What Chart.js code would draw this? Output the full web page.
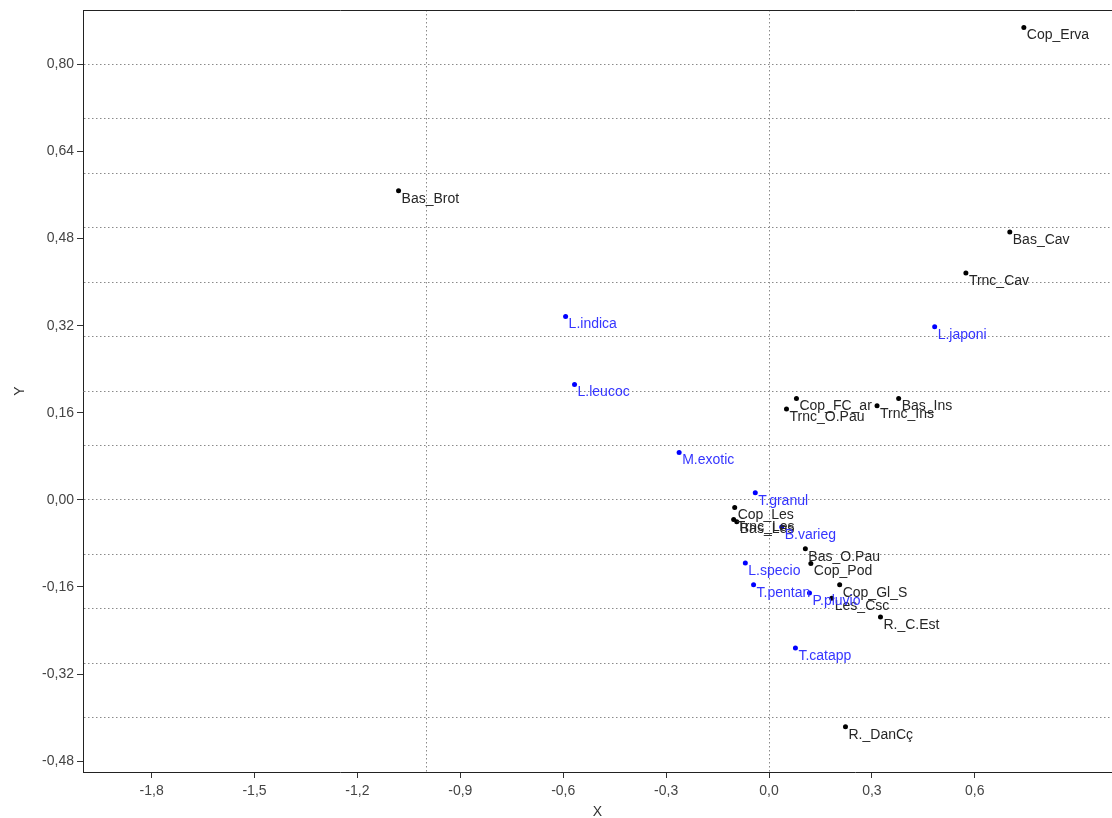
<!DOCTYPE html>
<html>
<head>
<meta charset="utf-8">
<script src="https://cdn.jsdelivr.net/npm/chart.js@4.4.1/dist/chart.umd.min.js"></script>
<style>
  body { margin: 0; background: #fff; }
</style>
</head>
<body>
<canvas id="chart" width="1112" height="818"></canvas>
<script>
// sites (black)
const siteNames = ['Cop_Erva', 'Bas_Brot', 'Bas_Cav', 'Trnc_Cav', 'Cop_FC_ar', 'Trnc_O.Pau', 'Trnc_Ins', 'Bas_Ins',
  'Cop_Les', 'Trnc_Les', 'Bas_Les', 'Bas_O.Pau', 'Cop_Pod', 'Cop_Gl_S', 'Les_Csc', 'R._C.Est', 'R._DanCç'];
const siteX = [0.743, -1.080, 0.702, 0.574, 0.080, 0.051, 0.315, 0.378,
  -0.100, -0.103, -0.094, 0.106, 0.122, 0.206, 0.183, 0.325, 0.223];
const siteY = [0.868, 0.568, 0.492, 0.417, 0.186, 0.167, 0.173, 0.186,
  -0.014, -0.036, -0.040, -0.090, -0.117, -0.156, -0.181, -0.215, -0.417];

// species (blue)
const speciesNames = ['L.indica', 'L.japoni', 'L.leucoc', 'M.exotic', 'T.granul', 'B.varieg',
  'L.specio', 'T.pentan', 'P.pluvio', 'T.catapp'];
const speciesX = [-0.593, 0.483, -0.567, -0.262, -0.040, 0.037, -0.069, -0.045, 0.118, 0.077];
const speciesY = [0.337, 0.318, 0.212, 0.087, 0.013, -0.050, -0.116, -0.156, -0.171, -0.272];

// axes
const xTickValues = [-1.8, -1.5, -1.2, -0.9, -0.6, -0.3, 0, 0.3, 0.6];
const xGridValues = [-1.0, 0.0];
const yTickValues = [-0.48, -0.32, -0.16, 0, 0.16, 0.32, 0.48, 0.64, 0.80];
const yGridValues = [-0.4, -0.3, -0.2, -0.1, 0, 0.1, 0.2, 0.3, 0.4, 0.5, 0.6, 0.7, 0.8];

const has = (list, v) => list.some(u => Math.abs(u - v) < 1e-6);
const merged = (a, b) => a.concat(b.filter(v => !has(a, v))).sort((p, q) => p - q);
const fmt = (v, d) => v.toFixed(d).replace('-0,', '0,').replace('.', ',');

const font = { family: '"Liberation Sans", Arial, sans-serif', size: 14 };

function axis(tickValues, gridValues, decimals, min, max, pad) {
  return {
    type: 'linear',
    min,
    max,
    afterBuildTicks: (scale) => {
      scale.ticks = merged(tickValues, gridValues).map(value => ({ value }));
    },
    ticks: {
      autoSkip: false,
      maxRotation: 0,
      padding: pad,
      color: '#444',
      font,
      callback: (value) => has(tickValues, value) ? fmt(value, decimals) : ''
    },
    grid: {
      color: (ctx) => ctx.tick && has(gridValues, ctx.tick.value) ? '#8a8a8a' : 'rgba(0,0,0,0)',
      tickColor: (ctx) => ctx.tick && has(tickValues, ctx.tick.value) ? '#333' : 'rgba(0,0,0,0)',
      tickLength: 6,
      tickBorderDash: [],
      lineWidth: 1
    },
    border: { display: true, color: '#222', width: 1, dash: [1.5, 2.5] }
  };
}

const xScale = axis(xTickValues, xGridValues, 1, -2, 1, 5);
xScale.title = { display: true, text: 'X', color: '#333', font: { ...font, lineHeight: 0.8 }, padding: 0 };
xScale.afterFit = (scale) => {
  scale.height = 46;
  scale.paddingLeft = 0;
  scale.paddingRight = 0;
};

const yScale = axis(yTickValues, yGridValues, 2, -0.5, 0.9, 3);
yScale.title = { display: true, text: 'Y', color: '#333', font, padding: { top: 12, bottom: 0 } };
yScale.afterFit = (scale) => {
  scale.width = 83;
  scale.paddingTop = 0;
  scale.paddingBottom = 0;
};

const pointLabels = {
  id: 'pointLabels',
  afterDatasetsDraw(chart) {
    const { ctx } = chart;
    ctx.save();
    ctx.font = '14px "Liberation Sans", Arial, sans-serif';
    ctx.textBaseline = 'middle';
    chart.data.datasets.forEach((ds, i) => {
      const meta = chart.getDatasetMeta(i);
      ctx.fillStyle = ds.labelColor;
      meta.data.forEach((pt, j) => {
        ctx.fillText(ds.names[j], pt.x + 3, pt.y + 8);
      });
    });
    ctx.restore();
  }
};

new Chart(document.getElementById('chart'), {
  type: 'scatter',
  data: {
    datasets: [{
      label: 'Sites',
      names: siteNames,
      labelColor: '#262626',
      data: siteX.map((x, i) => ({ x, y: siteY[i] })),
      backgroundColor: '#000',
      borderWidth: 0,
      pointRadius: 2.5
    },
    {
      label: 'Species',
      names: speciesNames,
      labelColor: '#3535ff',
      data: speciesX.map((x, i) => ({ x, y: speciesY[i] })),
      backgroundColor: '#0000ff',
      borderWidth: 0,
      pointRadius: 2.5
    }]
  },
  options: {
    responsive: false,
    animation: false,
    layout: { autoPadding: false, padding: { top: 10, right: 0, left: 0, bottom: 0 } },
    plugins: {
      legend: { display: false },
      tooltip: { enabled: false }
    },
    scales: {
      x: xScale,
      y: yScale,
      x2: {
        type: 'linear',
        position: 'top',
        min: -2,
        max: 1,
        ticks: { display: false },
        grid: { display: false, drawTicks: false },
        border: { display: true, color: '#222', width: 1 },
        afterFit: (scale) => { scale.height = 0; }
      }
    }
  },
  plugins: [pointLabels]
});
</script>
</body>
</html>
